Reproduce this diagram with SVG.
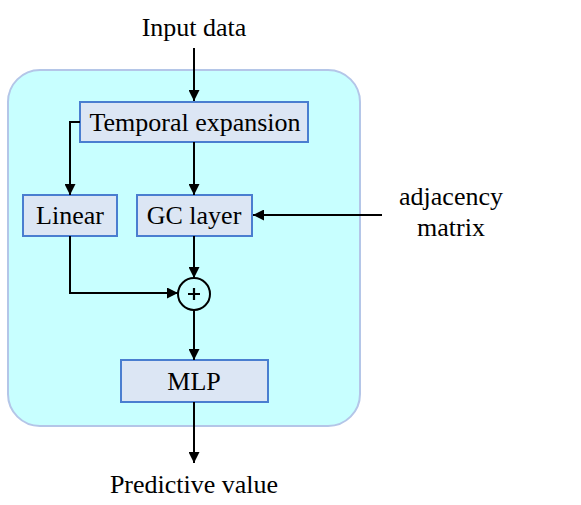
<svg xmlns="http://www.w3.org/2000/svg" width="581" height="505" viewBox="0 0 581 505">
<defs>
<marker id="ah" markerWidth="11" markerHeight="11" refX="11" refY="5.5" orient="auto" markerUnits="userSpaceOnUse">
<path d="M0,0 L11,5.5 L0,11 Z" fill="#000"/>
</marker>
<style>
.box{fill:#dce6f4;stroke:#4a7ed0;stroke-width:2}
.t{font-family:"Liberation Serif","Times New Roman",serif;font-size:26px;fill:#000;text-anchor:middle}
.c{fill:none;stroke:#000;stroke-width:2;marker-end:url(#ah)}
</style>
</defs>
<rect width="581" height="505" fill="#fff"/>
<g id="container">
<rect x="8" y="70" width="352" height="356" rx="32" ry="32" fill="#c8ffff" stroke="#b4c6e8" stroke-width="2"/>
</g>
<g id="input"><text class="t" x="194" y="36">Input data</text></g>
<g id="temporal"><rect class="box" x="80" y="102" width="228" height="40"/><text class="t" x="195" y="131">Temporal expansion</text></g>
<g id="linear"><rect class="box" x="23" y="195" width="94" height="41"/><text class="t" x="70" y="224">Linear</text></g>
<g id="gc"><rect class="box" x="137" y="195" width="115" height="41"/><text class="t" x="194" y="224">GC layer</text></g>
<g id="adj"><text class="t" x="451" y="205">adjacency</text><text class="t" x="451" y="236">matrix</text></g>
<g id="sum"><circle cx="194" cy="294" r="16" fill="none" stroke="#000" stroke-width="2"/><path d="M188,294 H200 M194,288 V300" stroke="#000" stroke-width="2.2"/></g>
<g id="mlp"><rect class="box" x="121" y="360" width="147" height="42"/><text class="t" x="194" y="390">MLP</text></g>
<g id="output"><text class="t" x="194" y="493">Predictive value</text></g>
<g id="connectors">
<path class="c" d="M194,48 V101"/>
<path class="c" d="M194,142 V195"/>
<path class="c" d="M80,122 H70 V195"/>
<path class="c" d="M382,215 H253"/>
<path class="c" d="M194,236 V278"/>
<path class="c" d="M70,236 V293 H178"/>
<path class="c" d="M194,310 V360"/>
<path class="c" d="M194,402 V463"/>
</g>
</svg>
